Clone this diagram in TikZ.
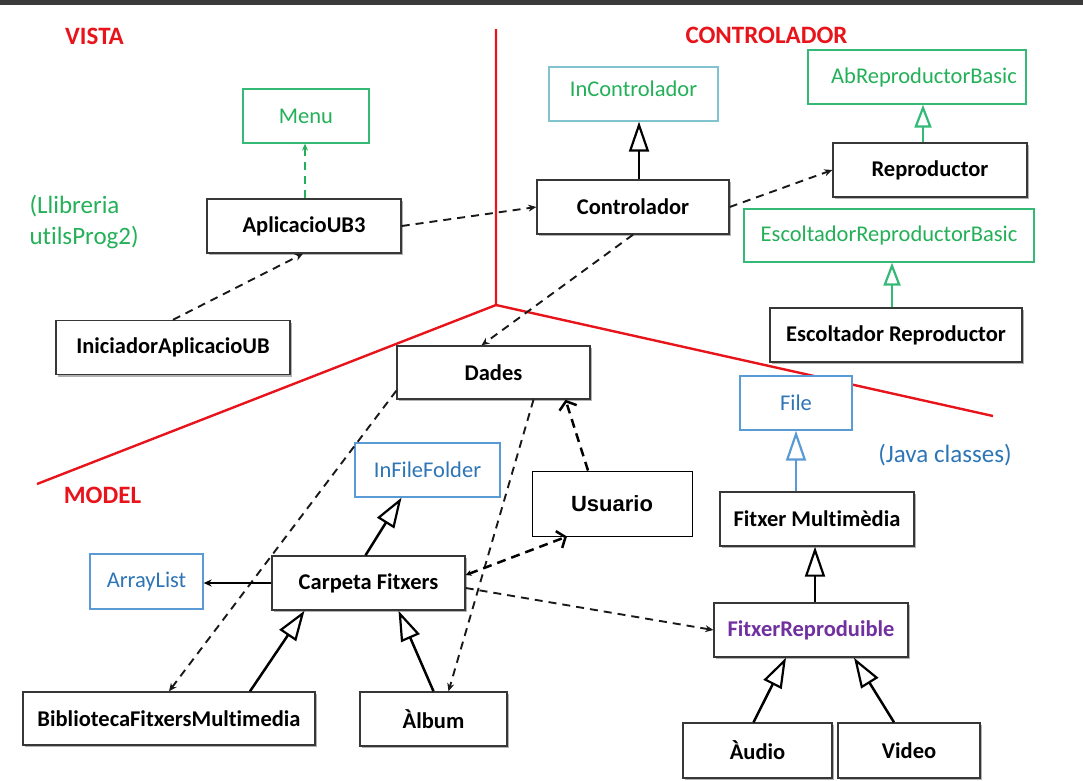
\documentclass[tikz,border=0pt]{standalone}
\usepackage{fontspec}
\setmainfont{Carlito}[Ligatures=NoCommon]
\newfontfamily\arialf{Liberation Sans}
\usetikzlibrary{arrows.meta,shadows,calc}
\definecolor{redc}{RGB}{232,20,27}
\definecolor{grn}{RGB}{36,176,88}
\definecolor{grnb}{RGB}{52,186,118}
\definecolor{blut}{RGB}{46,117,182}
\definecolor{blub}{RGB}{91,155,213}
\definecolor{tealb}{RGB}{130,195,208}
\definecolor{purp}{RGB}{112,48,160}
\definecolor{boxc}{RGB}{55,55,55}
\definecolor{topbar}{RGB}{58,58,58}
\tikzset{
  box/.style={draw=boxc, line width=1.4pt, fill=white, inner sep=0pt, minimum height=54pt,
    font=\fontsize{22.5}{26}\selectfont\bfseries,
    drop shadow={shadow xshift=2pt, shadow yshift=-2pt, opacity=0.3, fill=black}},
  gbox/.style={draw=grnb, line width=1.3pt, fill=white, inner sep=0pt, minimum height=54pt,
    text=grn, font=\fontsize{22.5}{26}\selectfont},
  bbox/.style={draw=blub, line width=1.3pt, fill=white, inner sep=0pt, minimum height=54pt,
    text=blut, font=\fontsize{22.5}{26}\selectfont},
  hdr/.style={text=redc, font=\fontsize{25}{30}\selectfont\bfseries},
  note/.style={font=\fontsize{25}{31}\selectfont},
  sep/.style={draw=redc, line width=2.4pt},
  dep/.style={draw=black!90, line width=1.9pt, dash pattern=on 8pt off 6pt,
    -{Stealth[length=8pt,width=7pt]}},
  udep/.style={draw=black, line width=2.5pt, dash pattern=on 9pt off 6pt,
    -{Straight Barb[length=7pt,width=18pt,line width=2.5pt]}},
  inh/.style={line width=2.5pt,
    -{Triangle[open,length=30pt,width=20pt,line width=2.2pt]}},
  ginh/.style={draw=grnb, line width=2.5pt,
    -{Triangle[open,length=23pt,width=17pt,line width=2.2pt]}},
}
\begin{document}
\begin{tikzpicture}[x=1pt,y=-1pt]
\useasboundingbox (0,0) rectangle (1083,780);
\fill[topbar] (0,0) rectangle (1083,4.5);

% separators
\coordinate (vt) at (496,29);
\coordinate (jn) at (496,305);
\coordinate (lf) at (37,484);
\coordinate (rt) at (993,416);
\draw[sep] (vt) -- (jn) -- (lf);
\draw[sep] (jn) -- (rt);

% headers and notes
\node[hdr] (vista) at (94.5,36) {VISTA};
\node[hdr] (ctrlh) at (766.5,35) {CONTROLADOR};
\node[hdr] (model) at (102.5,495) {MODEL};
\node[note, text=grn, align=left, anchor=west] (lib) at (26,222) {(Llibreria\\utilsProg2)};
\node[note, text=blut] (java) at (945,455) {(Java classes)};

% VISTA
\node[gbox, minimum width=126pt] (menu) at (306,116) {\raisebox{-5pt}{Menu}};
\node[box, minimum width=194pt] (apl) at (304,226) {AplicacioUB3};
\node[box, minimum width=234pt] (ini) at (173,347.5) {IniciadorAplicacioUB};

% CONTROLADOR
\node[gbox, draw=tealb, minimum width=169pt] (inctl) at (633.5,94) {\raisebox{10pt}{InControlador}};
\node[box, minimum width=192pt] (ctl) at (633,207) {Controlador};
\node[gbox, minimum width=218pt] (abrep) at (917,77) {\hspace{14pt}\raisebox{-3pt}{AbReproductorBasic}};
\node[box, minimum width=194pt] (rep) at (930,170) {Reproductor};
\node[gbox, minimum width=290pt, minimum height=53pt] (escb) at (889,235.5) {\raisebox{-2pt}{EscoltadorReproductorBasic}};
\node[box, minimum width=252pt] (esc) at (896,335) {Escoltador Reproductor};

% MODEL
\node[box, minimum width=193pt, minimum height=53pt] (dades) at (493.5,372.5) {Dades};
\node[bbox, minimum width=112pt] (file) at (796,403) {File};
\node[bbox, minimum width=145pt] (infl) at (427.5,470) {InFileFolder};
\node[draw=black, line width=1pt, fill=white, inner sep=0pt, minimum width=160pt, minimum height=65pt,
  font=\arialf\fontsize{22}{26}\selectfont\bfseries] (usu) at (612,503.5) {Usuario};
\node[box, minimum width=194pt] (fmm) at (817,519) {Fitxer Multimèdia};
\node[bbox, minimum width=113pt, minimum height=55pt] (arr) at (146.5,581.5) {ArrayList};
\node[box, minimum width=193pt] (carp) at (368.5,583) {Carpeta Fitxers};
\node[box, minimum width=194pt, text=purp] (frep) at (811,630) {FitxerReproduible};
\node[box, minimum width=292pt, minimum height=53pt] (bib) at (169,718.5) {BibliotecaFitxersMultimedia};
\node[box, minimum width=147pt] (alb) at (433.5,719) {Àlbum};
\node[box, minimum width=149pt, minimum height=55pt] (aud) at (757.5,750.5) {Àudio};
\node[box, minimum width=142pt, minimum height=55pt] (vid) at (909,750.5) {Video};

% VISTA connectors
\draw[dep, draw=grn, -{Stealth[length=7pt,width=6pt,fill=grn]}] ([xshift=1pt]apl.north) -- ([xshift=1pt]apl.north |- menu.south);
\draw[dep] (ini.north) -- ([xshift=-1pt]apl.south);
\draw[dep] (apl.east) -- (ctl.west);

% CONTROLADOR connectors
\draw[inh] ([xshift=6pt]ctl.north) -- ([xshift=6pt]ctl.north |- inctl.south);
\draw[dep] (ctl.east) -- (rep.west);
\draw[ginh] ([xshift=-7pt]rep.north) -- ([xshift=-7pt]rep.north |- abrep.south);
\draw[ginh] ([xshift=-4pt]esc.north) -- ([xshift=-4pt]esc.north |- escb.south);
\draw[dep] (ctl.south) -- ([xshift=-12pt]dades.north);

% MODEL connectors
\draw[dep] ([yshift=9pt]dades.south west) -- (bib.north);
\draw[dep] ([xshift=40pt]dades.south) -- ([xshift=15pt]alb.north);
\draw[udep] ([xshift=-24pt]usu.north) -- ([xshift=72pt]dades.south);
\draw[udep, {Stealth[length=6pt,width=6pt]}-{Straight Barb[length=7pt,width=18pt,line width=2.5pt]}] ([yshift=8pt]carp.east) -- ([xshift=-45pt]usu.south);
\draw[dep] ([yshift=-5pt]carp.east) -- (frep.west);
\draw[line width=1.5pt, -{Stealth[length=8pt,width=7pt]}] (carp.west) -- (carp.west -| arr.east);
\draw[inh] ([xshift=-3pt]carp.north) -- ([xshift=-26pt]infl.south);
\draw[inh] ([xshift=81pt]bib.north) -- ([xshift=-64pt]carp.south);
\draw[inh] (alb.north) -- ([xshift=30pt]carp.south);
\draw[inh, draw=blub] ([xshift=-21pt]fmm.north) -- (file.south);
\draw[inh] ([xshift=4pt]frep.north) -- ([xshift=4pt]frep.north |- fmm.south);
\draw[inh] ([xshift=-4pt]aud.north) -- ([xshift=-25pt]frep.south);
\draw[inh] ([xshift=-15pt]vid.north) -- ([xshift=43pt]frep.south);
\end{tikzpicture}
\end{document}
